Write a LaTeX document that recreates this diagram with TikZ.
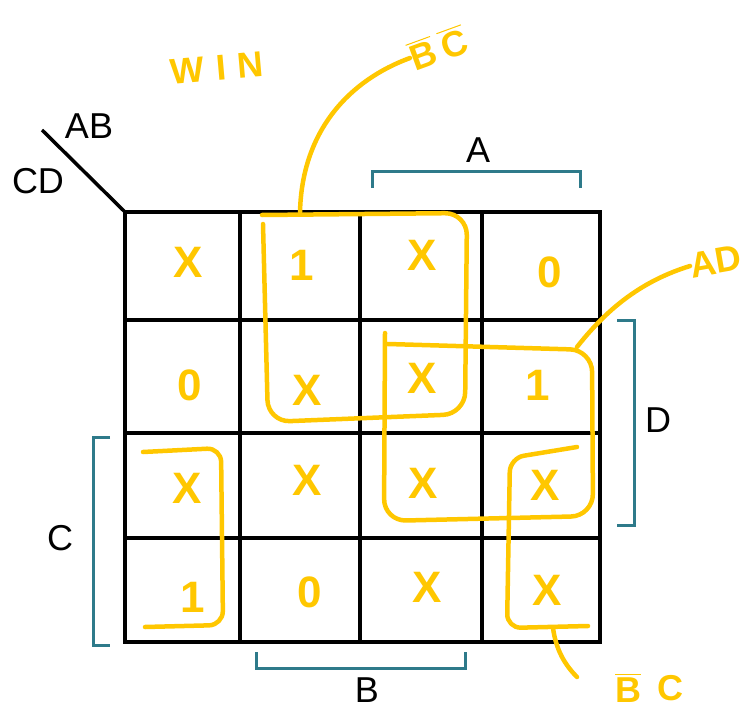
\documentclass[tikz,border=0pt]{standalone}
\usepackage{amsmath}
\usepackage{fontspec}
\setmainfont{Liberation Sans}
\usetikzlibrary{positioning, calc}
\definecolor{hl}{RGB}{255,199,0}
\definecolor{brk}{RGB}{46,122,138}

\begin{document}
\begin{tikzpicture}[
        x=1pt, y=-1pt,
        cellline/.style = {line width=4pt, line cap=rect},
        tag/.style = {font=\fontsize{36}{36}\selectfont, text=black, inner sep=0pt},
        side/.style = {line width=3pt, draw=brk},
        entry/.style = {text=hl, font=\fontsize{44}{44}\selectfont\bfseries, inner sep=0pt},
        note/.style = {text=hl, font=\fontsize{36}{36}\selectfont\bfseries, inner sep=0pt},
        ring/.style = {draw=hl, line width=4.5pt, line cap=round, line join=round, rounded corners=22pt},
        pen/.style = {draw=hl, line width=4.5pt, line cap=round},
    ]
        \useasboundingbox (0,0) rectangle (749,714);

        % the 4x4 map
        \foreach \x in {125,240,360,482,600}
            \draw[cellline] (\x,212) -- (\x,642);
        \foreach \y in {212,320,433,538,642}
            \draw[cellline] (125,\y) -- (600,\y);
        \coordinate (corner) at (125,212);
        \coordinate (slash) at (42,130);
        \draw[line width=3.5pt] (slash) -- (corner);
        \node[tag] (ab) at (89,126) {AB};
        \node[tag] (cd) at (38,181) {CD};

        % cell values, row by row
        \foreach \r/\c/\px/\py/\v in {
            0/0/188/262/X, 0/1/302/265/1, 0/2/422/255/X, 0/3/550/272/0,
            1/0/190/385/0, 1/1/307/390/X, 1/2/422/378/X, 1/3/538/385/1,
            2/0/187/488/X, 2/1/307/480/X, 2/2/423/483/X, 2/3/545/485/X,
            3/0/193/597/1, 3/1/310/592/0, 3/2/427/587/X, 3/3/547/590/X}{
            \node[entry] (v\r\c) at (\px,\py) {\v};
        }

        % variable brackets
        \draw[side] (372,188) -- (372,172) -- (580,172) -- (580,188);
        \node[tag] (A) at (478,150) {A};
        \draw[side] (617,320) -- (634,320) -- (634,525) -- (617,525);
        \node[tag] (D) at (658,420) {D};
        \draw[side] (110,437) -- (93,437) -- (93,645) -- (110,645);
        \node[tag] (C) at (60,538) {C};
        \draw[side] (256,652) -- (256,668) -- (465,668) -- (465,652);
        \node[tag] (B) at (367,690) {B};

        % groupings
        \draw[ring] (263,224) -- (268,422) -- (465,414) -- (467,213) -- (262,215);
        \draw[ring] (385,333) -- (384,521) -- (593,516) -- (592,350) -- (388,344);
        \draw[ring, rounded corners=14pt] (143,452) -- (221,448) -- (223,625) -- (145,627);
        \draw[ring, rounded corners=14pt] (577,447) -- (510,458) -- (507,628) -- (588,626);

        % notes
        \node[note, rotate=5] (win) at (217,68) {W\hspace{12pt}I\hspace{12pt}N};
        \node[note, rotate=20, anchor=west] (bcbar) at (410,58) {$\overline{\mbox{B}}\;\overline{\mbox{C}}$};
        \node[note, rotate=10, anchor=west] (ad) at (690,266) {AD};
        \node[note] (bbar) at (628,688) {$\overline{\mbox{B}}$};
        \node[note, right=16pt of bbar] (c2) {C};

        \coordinate (t1) at (300,212);
        \coordinate (t2) at (577,347);
        \coordinate (t3) at (553,628);
        \coordinate (e3) at (577,677);
        \draw[pen] (t1) .. controls (302,130) and (350,80) .. (bcbar.west);
        \draw[pen] (t2) .. controls (610,305) and (645,280) .. (ad.west);
        \draw[pen] (t3) .. controls (556,650) and (565,665) .. (e3);
    \end{tikzpicture}
\end{document}
